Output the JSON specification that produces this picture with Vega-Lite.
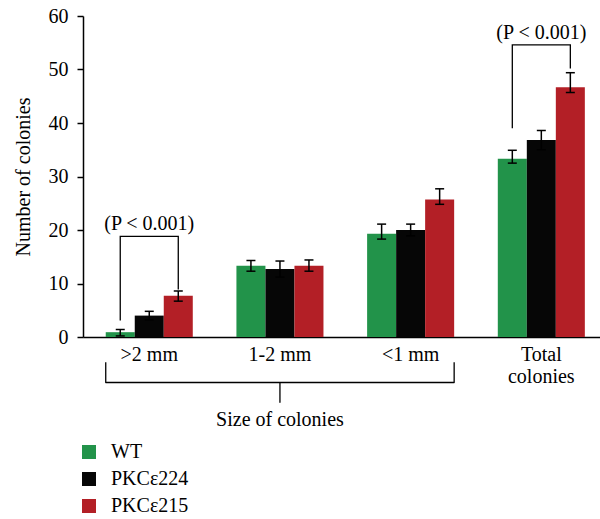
{
  "$schema": "https://vega.github.io/schema/vega-lite/v6.json",
  "width": 517,
  "height": 321,
  "autosize": {"type": "none"},
  "padding": {"left": 83, "top": 16, "right": 0, "bottom": 182},
  "background": "white",
  "config": {
    "font": "Liberation Serif",
    "view": {"stroke": null},
    "axis": {"labelColor": "black", "titleColor": "black", "domainColor": "black", "tickColor": "black", "grid": false, "labelFontSize": 20, "titleFontSize": 20, "titleFontWeight": "normal", "domainWidth": 1.5, "tickWidth": 1.5},
    "legend": {"labelColor": "black", "labelFontSize": 20, "padding": 0}
  },
  "datasets": {
    "bars": [
      {"grp": ">2 mm", "series": "WT", "value": 0.9, "lo": 0.2, "hi": 1.4},
      {"grp": ">2 mm", "series": "PKCε224", "value": 4.0, "lo": 3.2, "hi": 4.8},
      {"grp": ">2 mm", "series": "PKCε215", "value": 7.7, "lo": 6.7, "hi": 8.6},
      {"grp": "1-2 mm", "series": "WT", "value": 13.3, "lo": 12.3, "hi": 14.3},
      {"grp": "1-2 mm", "series": "PKCε224", "value": 12.7, "lo": 11.2, "hi": 14.2},
      {"grp": "1-2 mm", "series": "PKCε215", "value": 13.3, "lo": 12.3, "hi": 14.4},
      {"grp": "<1 mm", "series": "WT", "value": 19.3, "lo": 18.3, "hi": 21.1},
      {"grp": "<1 mm", "series": "PKCε224", "value": 20.0, "lo": 18.9, "hi": 21.1},
      {"grp": "<1 mm", "series": "PKCε215", "value": 25.7, "lo": 24.8, "hi": 27.7},
      {"grp": "Total colonies", "series": "WT", "value": 33.3, "lo": 32.5, "hi": 34.9},
      {"grp": "Total colonies", "series": "PKCε224", "value": 36.8, "lo": 35.0, "hi": 38.6},
      {"grp": "Total colonies", "series": "PKCε215", "value": 46.7, "lo": 45.7, "hi": 49.4}
    ],
    "brackets": [
      {"id": 1, "ord": 1, "grp": ">2 mm", "series": "WT", "y": 3.1},
      {"id": 1, "ord": 2, "grp": ">2 mm", "series": "WT", "y": 18.8},
      {"id": 1, "ord": 3, "grp": ">2 mm", "series": "PKCε215", "y": 18.8},
      {"id": 1, "ord": 4, "grp": ">2 mm", "series": "PKCε215", "y": 8.9},
      {"id": 2, "ord": 1, "grp": "Total colonies", "series": "WT", "y": 39.0},
      {"id": 2, "ord": 2, "grp": "Total colonies", "series": "WT", "y": 54.6},
      {"id": 2, "ord": 3, "grp": "Total colonies", "series": "PKCε215", "y": 54.6},
      {"id": 2, "ord": 4, "grp": "Total colonies", "series": "PKCε215", "y": 50.2}
    ],
    "notes": [
      {"grp": ">2 mm", "series": "PKCε224", "y": 21.1, "text": "(P < 0.001)"},
      {"grp": "Total colonies", "series": "PKCε224", "y": 56.9, "text": "(P < 0.001)"}
    ],
    "brace": [
      {"ord": 1, "grp": ">2 mm", "pos": "start", "y": -4.7},
      {"ord": 2, "grp": ">2 mm", "pos": "start", "y": -8.5},
      {"ord": 3, "grp": "1-2 mm", "pos": "mid", "y": -8.5},
      {"ord": 4, "grp": "1-2 mm", "pos": "mid", "y": -12.2},
      {"ord": 5, "grp": "1-2 mm", "pos": "mid", "y": -8.5},
      {"ord": 6, "grp": "<1 mm", "pos": "end", "y": -8.5},
      {"ord": 7, "grp": "<1 mm", "pos": "end", "y": -4.7}
    ],
    "caption": [
      {"grp": "1-2 mm", "y": -16.7, "text": "Size of colonies"}
    ]
  },
  "resolve": {"scale": {"xOffset": "independent"}},
  "layer": [
    {
      "data": {"name": "bars"},
      "mark": {"type": "bar"},
      "encoding": {
        "x": {"field": "grp", "type": "nominal", "sort": [">2 mm", "1-2 mm", "<1 mm", "Total colonies"],
          "scale": {"domain": [">2 mm", "1-2 mm", "<1 mm", "Total colonies"], "paddingInner": 0.334, "paddingOuter": 0.145, "align": 0.6},
          "axis": {"title": null, "ticks": false, "labelAngle": 0, "labelPadding": 7, "labelLineHeight": 22, "labelLimit": 300,
            "labelExpr": "datum.label == 'Total colonies' ? ['Total', 'colonies'] : datum.label"}},
        "xOffset": {"field": "series", "type": "nominal", "scale": {"domain": ["WT", "PKCε224", "PKCε215"]}},
        "y": {"field": "value", "type": "quantitative",
          "scale": {"domain": [0, 60], "nice": false, "zero": true},
          "axis": {"title": "Number of colonies", "values": [0, 10, 20, 30, 40, 50, 60], "tickSize": 6, "labelPadding": 9, "titlePadding": 15}},
        "color": {"field": "series", "type": "nominal",
          "scale": {"domain": ["WT", "PKCε224", "PKCε215"], "range": ["#22934a", "#060606", "#b31f26"]},
          "legend": {"orient": "none", "legendX": -4, "legendY": 426, "title": null, "symbolType": "square", "symbolSize": 196, "symbolStrokeWidth": 0, "symbolOpacity": 1, "labelOffset": 12, "rowPadding": 7}}
      }
    },
    {
      "data": {"name": "bars"},
      "mark": {"type": "rule", "color": "black", "strokeWidth": 1.5},
      "encoding": {
        "x": {"field": "grp", "type": "nominal"},
        "xOffset": {"field": "series", "type": "nominal", "scale": {"domain": ["WT", "PKCε224", "PKCε215"]}},
        "y": {"field": "lo", "type": "quantitative"},
        "y2": {"field": "hi"}
      }
    },
    {
      "data": {"name": "bars"},
      "mark": {"type": "tick", "color": "black", "size": 9, "thickness": 1.5, "opacity": 1},
      "encoding": {
        "x": {"field": "grp", "type": "nominal"},
        "xOffset": {"field": "series", "type": "nominal", "scale": {"domain": ["WT", "PKCε224", "PKCε215"]}},
        "y": {"field": "hi", "type": "quantitative"}
      }
    },
    {
      "data": {"name": "bars"},
      "mark": {"type": "tick", "color": "black", "size": 9, "thickness": 1.5, "opacity": 1},
      "encoding": {
        "x": {"field": "grp", "type": "nominal"},
        "xOffset": {"field": "series", "type": "nominal", "scale": {"domain": ["WT", "PKCε224", "PKCε215"]}},
        "y": {"field": "lo", "type": "quantitative"}
      }
    },
    {
      "data": {"name": "brackets"},
      "mark": {"type": "line", "color": "black", "strokeWidth": 1.3},
      "encoding": {
        "x": {"field": "grp", "type": "nominal"},
        "xOffset": {"field": "series", "type": "nominal", "scale": {"domain": ["WT", "PKCε224", "PKCε215"]}},
        "y": {"field": "y", "type": "quantitative"},
        "order": {"field": "ord", "type": "quantitative"},
        "detail": {"field": "id", "type": "nominal"}
      }
    },
    {
      "data": {"name": "notes"},
      "mark": {"type": "text", "fontSize": 20, "color": "black", "baseline": "middle", "align": "center"},
      "encoding": {
        "x": {"field": "grp", "type": "nominal"},
        "xOffset": {"field": "series", "type": "nominal", "scale": {"domain": ["WT", "PKCε224", "PKCε215"]}},
        "y": {"field": "y", "type": "quantitative"},
        "text": {"field": "text"}
      }
    },
    {
      "mark": {"type": "rule", "color": "black", "strokeWidth": 1.5},
      "encoding": {"y": {"datum": 60}}
    },
    {
      "data": {"name": "brace"},
      "mark": {"type": "line", "color": "black", "strokeWidth": 1.3, "strokeJoin": "round"},
      "encoding": {
        "x": {"field": "grp", "type": "nominal"},
        "xOffset": {"field": "pos", "type": "nominal", "scale": {"type": "point", "padding": 0, "domain": ["start", "mid", "end"]}},
        "y": {"field": "y", "type": "quantitative"},
        "order": {"field": "ord", "type": "quantitative"}
      }
    },
    {
      "data": {"name": "caption"},
      "mark": {"type": "text", "fontSize": 20, "color": "black", "baseline": "alphabetic", "align": "center"},
      "encoding": {
        "x": {"field": "grp", "type": "nominal"},
        "y": {"field": "y", "type": "quantitative"},
        "text": {"field": "text"}
      }
    }
  ]
}
